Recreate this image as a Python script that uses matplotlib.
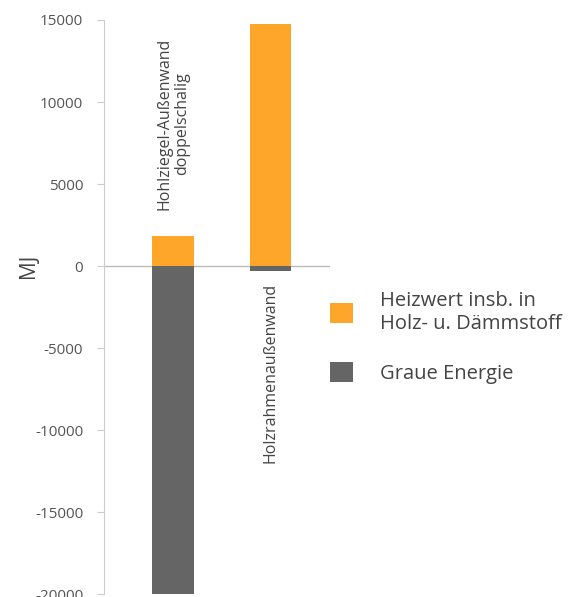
import numpy as np
import matplotlib
matplotlib.use('Agg')
import matplotlib.pyplot as plt
from matplotlib.patches import Patch

plt.rcParams['font.family'] = ['Open Sans', 'DejaVu Sans']
plt.rcParams['axes.unicode_minus'] = False

# Wandaufbauten und Energiebilanz in MJ
walls = ['Hohlziegel-Außenwand\ndoppelschalig', 'Holzrahmenaußenwand']
heizwert = [1850, 14750]
graue_energie = [-20000, -300]

orange = '#FEA62A'
grey = '#656565'

fig = plt.figure(figsize=(5.81, 5.97), dpi=100)
ax = fig.add_axes([0.179, 0.005, 0.389, 0.9615])

x = np.arange(len(walls))
ax.bar(x, heizwert, width=0.43, color=orange, zorder=2)
ax.bar(x, graue_energie, width=0.43, color=grey, zorder=2)

ax.set_xlim(-0.708, 1.61)
ax.set_ylim(-20000, 15000)
ax.set_yticks(np.arange(-20000, 15001, 5000))
ax.tick_params(axis='y', labelsize=11, labelcolor='#555555', color='#cccccc',
               length=5, pad=10)
ax.set_xticks([])

for side in ['top', 'right', 'bottom']:
    ax.spines[side].set_visible(False)
ax.spines['left'].set_color('#cccccc')
ax.axhline(0, color='#bbbbbb', lw=1, zorder=1)

# Achsenbeschriftung auf Höhe der Nulllinie
ax.text(-0.336, 20000 / 35000, 'MJ', transform=ax.transAxes, rotation=90,
        ha='center', va='center', fontsize=15, color='#444444')

# Beschriftung der Wandtypen
ax.text(x[0], 3400, walls[0], rotation=90, ha='center', va='bottom',
        fontsize=11.5, color='#444444', linespacing=1.15)
ax.text(x[1], -1000, walls[1], rotation=90, ha='center', va='top',
        fontsize=11.5, color='#444444')

handles = [Patch(facecolor=orange, edgecolor='none'),
           Patch(facecolor=grey, edgecolor='none')]
labels = ['Heizwert insb. in\nHolz- u. Dämmstoff', 'Graue Energie']
fig.legend(handles, labels, loc='upper left', bbox_to_anchor=(0.54, 0.54),
           frameon=False, fontsize=14.5, labelcolor='#444444',
           handlelength=1.15, handleheight=1.15, labelspacing=1.4,
           handletextpad=1.35, borderpad=0.3)

fig.savefig('out.png', dpi=100)
